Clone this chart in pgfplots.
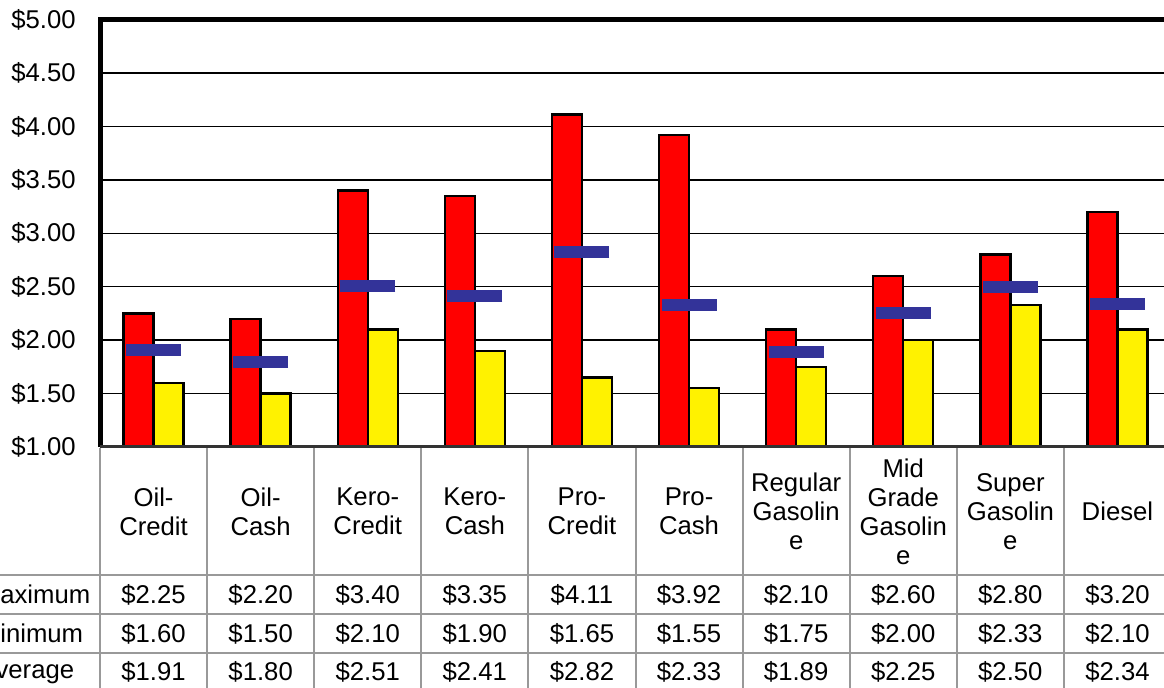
\documentclass[border=0pt]{standalone}
\usepackage{fontspec}
\setmainfont{Liberation Sans}
\usepackage{pgfplots}
\usepackage{pgfplotstable}
\pgfplotsset{compat=1.18}

\definecolor{avgblue}{HTML}{333399}
\definecolor{tablegray}{HTML}{999999}

% fuel prices: maximum, minimum, average
\pgfplotstableread{
x  max  min  avg
0  2.25 1.60 1.91
1  2.20 1.50 1.80
2  3.40 2.10 2.51
3  3.35 1.90 2.41
4  4.11 1.65 2.82
5  3.92 1.55 2.33
6  2.10 1.75 1.89
7  2.60 2.00 2.25
8  2.80 2.33 2.50
9  3.20 2.10 2.34
}\pricedata

\newcommand{\tabfont}{\fontsize{12.85}{14.5}\selectfont}

\begin{document}
\begin{tikzpicture}
\begin{axis}[
    at={(50pt,-223.5pt)}, anchor=south west,
    scale only axis,
    width=535.5pt, height=213.75pt,
    xmin=-0.5, xmax=9.5,
    ymin=1, ymax=5,
    xtick=\empty,
    ytick={1,1.5,2,2.5,3,3.5,4,4.5,5},
    /pgf/number format/assume math mode=true,
    yticklabel={\$\pgfmathprintnumber[fixed,fixed zerofill,precision=2]{\tick}},
    yticklabel style={font=\tabfont, inner sep=0pt, xshift=-12pt},
    ytick style={draw=none},
    ymajorgrids,
    major grid style={black, line width=0.7pt},
    axis line style={draw=none},
]
\addplot[ybar, bar width=15pt, bar shift=-7.5pt, fill=red, draw=black, line width=1.2pt]
    table[x=x, y=max] {\pricedata};
\addplot[ybar, bar width=15pt, bar shift=7.5pt, fill=yellow, draw=black, line width=1.2pt]
    table[x=x, y=min] {\pricedata};
\addplot[only marks, mark=-, mark size=13.75pt, color=avgblue,
    mark options={line width=6pt}]
    table[x=x, y=avg] {\pricedata};
\end{axis}

% the rest is laid out in reference pixels, y downwards
\begin{scope}[x=0.5pt, y=-0.5pt]
  % plot area border and category axis
  \draw[line width=2.5pt, line join=miter] (100,447) -- (100,19.5) -- (1171,19.5) -- (1171,447);
  \draw[black!80, line width=1.2pt] (100,446.5) -- (1171,446.5);

  % data table grid
  \foreach \i in {0,...,10}
    \draw[tablegray, line width=1pt] ({100+107.1*\i},448) -- ({100+107.1*\i},700);
  \foreach \yy in {575,614,652.7}
    \draw[tablegray, line width=1pt] (-60,\yy) -- (1200,\yy);

  % column headers
  \foreach \name [count=\i from 0] in {{Oil-\\Credit},{Oil-\\Cash},{Kero-\\Credit},
      {Kero-\\Cash},{Pro-\\Credit},{Pro-\\Cash},{Regular\\Gasolin\\e},
      {Mid\\Grade\\Gasolin\\e},{Super\\Gasolin\\e},{Diesel}}
    \node[align=center, font=\tabfont] at ({100+107.1*(\i+0.5)},511.5) {\name};

  % row labels (left part falls outside the picture, as in the reference)
  \node[font=\tabfont, anchor=west, inner sep=0pt] at (-21.5,594.5) {Maximum};
  \node[font=\tabfont, anchor=west, inner sep=0pt] at (-21.5,633.5) {Minimum};
  \node[font=\tabfont, anchor=west, inner sep=0pt] at (-21.5,672) {Average};

  % table values
  \foreach \i in {0,...,9} {
    \pgfplotstablegetelem{\i}{max}\of\pricedata \edef\mx{\pgfplotsretval}
    \pgfplotstablegetelem{\i}{min}\of\pricedata \edef\mn{\pgfplotsretval}
    \pgfplotstablegetelem{\i}{avg}\of\pricedata \edef\av{\pgfplotsretval}
    \node[font=\tabfont] at ({100+107.1*(\i+0.5)},594.5) {\$\mx};
    \node[font=\tabfont] at ({100+107.1*(\i+0.5)},633.5) {\$\mn};
    \node[font=\tabfont] at ({100+107.1*(\i+0.5)},672) {\$\av};
  }

  \pgfresetboundingbox
  \path[use as bounding box] (0,0) rectangle (1164,687);
\end{scope}
\end{tikzpicture}
\end{document}
